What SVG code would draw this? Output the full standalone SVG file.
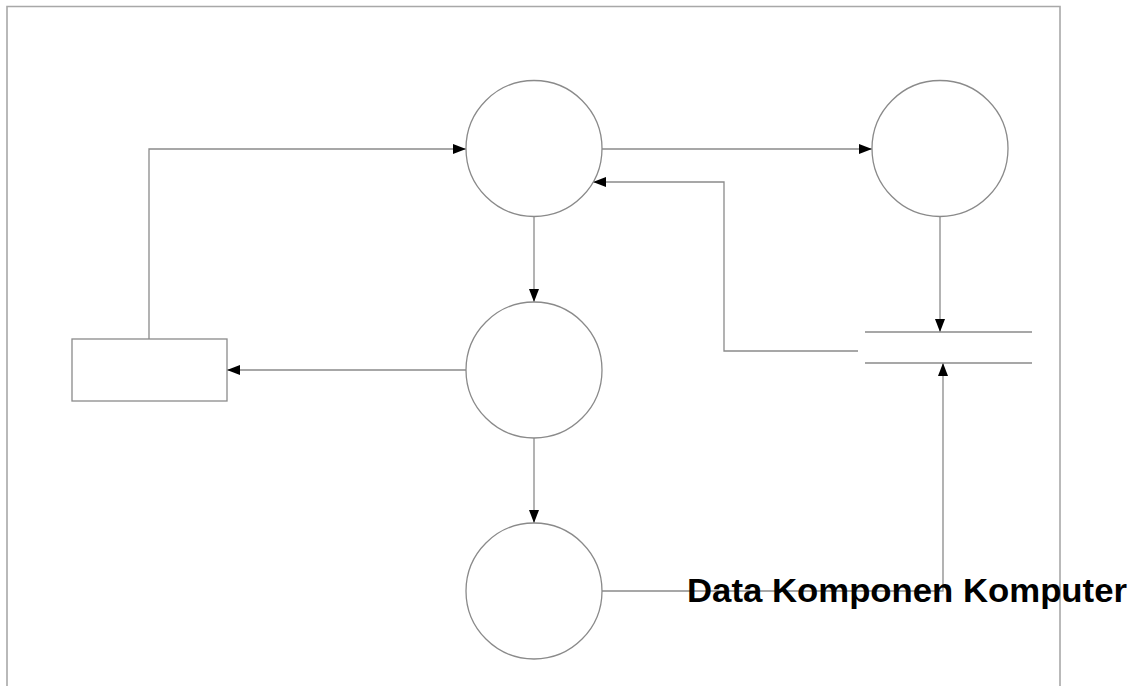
<svg xmlns="http://www.w3.org/2000/svg" width="1144" height="686" viewBox="0 0 1144 686">
<style>
.shape{fill:#fff;stroke:#8a8a8a;stroke-width:1.3}
.frame{fill:none;stroke:#a8a8a8;stroke-width:1.6}
.conn{fill:none;stroke:#8a8a8a;stroke-width:1.3}
.label{font-family:"Liberation Sans",Arial,sans-serif;font-weight:bold;font-size:33px;fill:#000}
</style>
<defs>
<marker id="arr" viewBox="0 0 13 10" refX="13" refY="5" markerWidth="13" markerHeight="10" markerUnits="userSpaceOnUse" orient="auto">
<path d="M0,0 L13,5 L0,10 Z" fill="#000"/>
</marker>
</defs>
<rect width="1144" height="686" fill="#fff"/>
<path class="frame" d="M7,690 V6.5 H1060 V690"/>
<g id="connectors">
<path class="conn" d="M149,339 V149 H466" marker-end="url(#arr)"/>
<path class="conn" d="M602,149 H872" marker-end="url(#arr)"/>
<path class="conn" d="M858,351 H724 V182 H593" marker-end="url(#arr)"/>
<path class="conn" d="M940,217 V332" marker-end="url(#arr)"/>
<path class="conn" d="M602,591 H943 V363" marker-end="url(#arr)"/>
<path class="conn" d="M534,217 V302" marker-end="url(#arr)"/>
<path class="conn" d="M534,438 V523" marker-end="url(#arr)"/>
<path class="conn" d="M466,370 H227" marker-end="url(#arr)"/>
</g>
<g id="process1"><circle class="shape" cx="534" cy="148.5" r="68"/></g>
<g id="process2"><circle class="shape" cx="940" cy="148.5" r="68"/></g>
<g id="process3"><circle class="shape" cx="534" cy="370" r="68"/></g>
<g id="process4"><circle class="shape" cx="534" cy="591" r="68"/></g>
<g id="entity"><rect class="shape" x="72" y="339" width="155" height="62"/></g>
<g id="datastore">
<path class="conn" d="M865,332 H1032 M865,363 H1032"/>
</g>
<g id="label"><text class="label" x="687" y="602" textLength="440" lengthAdjust="spacingAndGlyphs">Data Komponen Komputer</text></g>
</svg>
